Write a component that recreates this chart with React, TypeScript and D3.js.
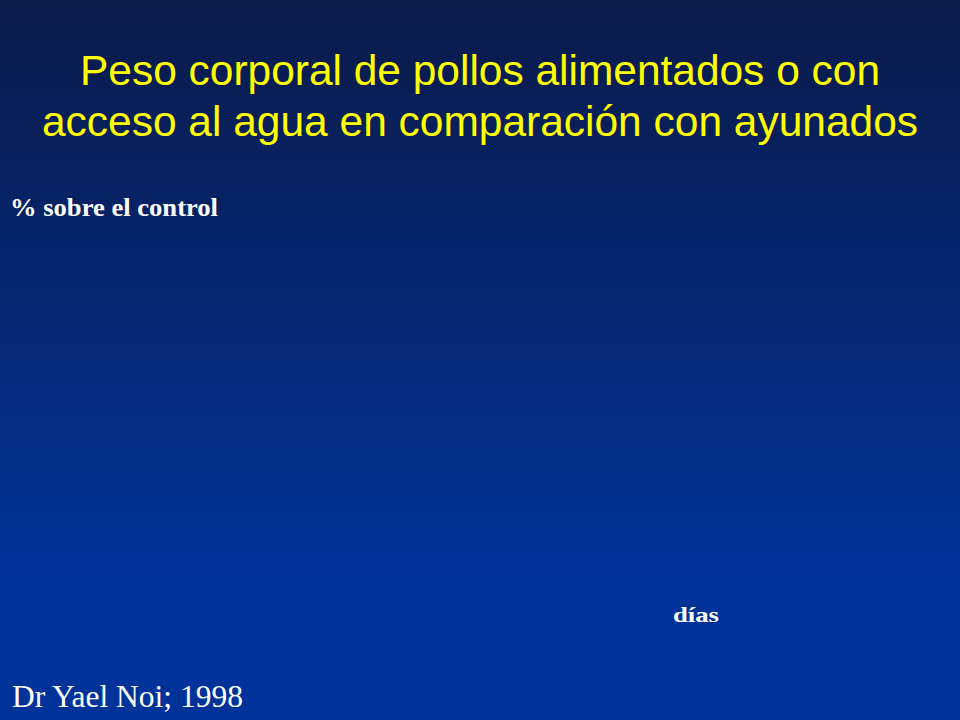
import React, { useEffect, useRef } from "react";
import * as d3 from "d3";

// slide text (the chart area itself is empty in the reference)
const titleLines = [
  "Peso corporal de pollos alimentados o con",
  "acceso al agua en comparación con ayunados",
];
const yLabel = "% sobre el control";
const xLabel = "días";
const source = "Dr Yael Noi; 1998";

const W = 960;
const H = 720;

export default function App() {
  const ref = useRef<SVGSVGElement | null>(null);

  useEffect(() => {
    if (!ref.current) return;
    const svg = d3.select(ref.current);
    svg.selectAll("*").remove();

    // background gradient
    const grad = svg.append("defs").append("linearGradient")
      .attr("id", "bg").attr("x1", 0).attr("y1", 0).attr("x2", 0).attr("y2", 1);
    grad.append("stop").attr("offset", "0%").attr("stop-color", "#0b1a49");
    grad.append("stop").attr("offset", "82%").attr("stop-color", "#003399");
    grad.append("stop").attr("offset", "100%").attr("stop-color", "#003399");
    svg.append("rect").attr("width", W).attr("height", H).attr("fill", "url(#bg)");

    // title (condensed look of the original slide)
    const titleWidths = [800, 876];
    svg.selectAll(".title").data(titleLines).enter().append("text")
      .attr("class", "title")
      .attr("x", W / 2)
      .attr("y", (_, i) => 85 + i * 51)
      .attr("text-anchor", "middle")
      .attr("textLength", (_, i) => titleWidths[i])
      .attr("lengthAdjust", "spacingAndGlyphs")
      .style("font-family", "'Liberation Sans', Arial, sans-serif")
      .style("font-size", "42px")
      .style("fill", "#ffff00")
      .text((d) => d);

    const serif = "'Liberation Serif', 'Times New Roman', serif";

    svg.append("text")
      .attr("x", 10).attr("y", 216)
      .attr("textLength", 208).attr("lengthAdjust", "spacingAndGlyphs")
      .style("font-family", serif).style("font-weight", "bold")
      .style("font-size", "25px").style("fill", "#ffffff")
      .text(yLabel);

    svg.append("text")
      .attr("x", 673).attr("y", 622)
      .attr("textLength", 46).attr("lengthAdjust", "spacingAndGlyphs")
      .style("font-family", serif).style("font-weight", "bold")
      .style("font-size", "22px").style("fill", "#ffffff")
      .text(xLabel);

    svg.append("text")
      .attr("x", 12).attr("y", 707)
      .attr("textLength", 231).attr("lengthAdjust", "spacingAndGlyphs")
      .style("font-family", serif)
      .style("font-size", "31px").style("fill", "#ffffff")
      .text(source);
  }, []);

  return (
    <div style={{ position: "fixed", left: 0, top: 0, width: W, height: H }}>
      <svg ref={ref} width={W} height={H} style={{ display: "block" }} />
    </div>
  );
}
